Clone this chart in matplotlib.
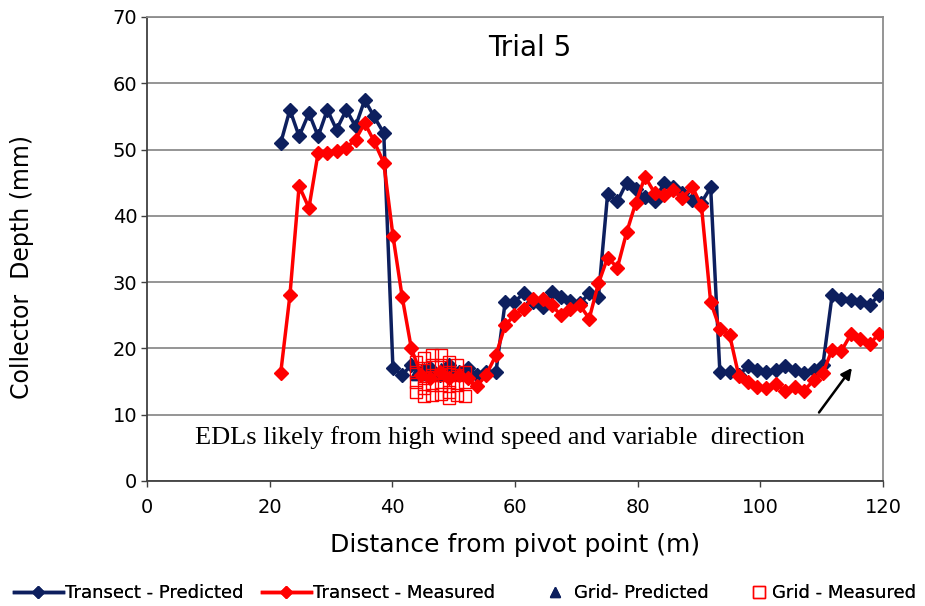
import matplotlib
matplotlib.use("Agg")
import matplotlib.pyplot as plt
from matplotlib.lines import Line2D

# ---- data ----
distance = [21.8, 23.3, 24.8, 26.4, 27.9, 29.4, 30.9, 32.5, 34.0, 35.5,
            37.0, 38.6, 40.1, 41.6, 43.1, 44.7, 46.2, 47.7, 49.2, 50.8,
            52.3, 53.8, 55.3, 56.9, 58.4, 59.9, 61.4, 62.9, 64.5, 66.0,
            67.5, 69.0, 70.6, 72.1, 73.6, 75.1, 76.7, 78.2, 79.7, 81.2,
            82.8, 84.3, 85.8, 87.3, 88.9, 90.4, 91.9, 93.4, 95.0, 96.5,
            98.0, 99.5, 101.0, 102.6, 104.1, 105.6, 107.1, 108.7, 110.2, 111.7,
            113.2, 114.8, 116.3, 117.8, 119.3]

transect_predicted = [51.0, 56.0, 52.0, 55.5, 52.0, 56.0, 53.0, 56.0, 53.5, 57.5,
                      55.0, 52.5, 17.0, 16.0, 17.5, 16.5, 17.0, 16.0, 17.5, 16.5,
                      17.0, 16.0, 16.5, 16.5, 27.0, 27.0, 28.3, 27.0, 26.3, 28.5,
                      27.8, 27.2, 26.8, 28.3, 27.8, 43.3, 42.2, 45.0, 44.0, 42.8,
                      42.2, 45.0, 44.4, 43.4, 42.4, 42.0, 44.3, 16.5, 16.5, 16.0,
                      17.3, 16.7, 16.5, 16.7, 17.3, 16.7, 16.3, 16.7, 17.5, 28.0,
                      27.5, 27.3, 27.0, 26.5, 28.0]

transect_measured = [16.3, 28.0, 44.5, 41.2, 49.5, 49.5, 49.8, 50.3, 51.5, 54.0,
                     51.3, 48.0, 37.0, 27.8, 20.0, 16.0, 15.5, 16.5, 15.5, 16.0,
                     15.5, 14.3, 16.0, 19.0, 23.5, 25.0, 26.0, 27.5, 27.5, 26.5,
                     25.0, 26.0, 26.5, 24.5, 29.8, 33.7, 32.2, 37.5, 42.0, 45.9,
                     43.4, 43.2, 43.9, 42.7, 44.4, 41.5, 27.0, 23.0, 22.0, 15.8,
                     15.0, 14.2, 14.0, 14.6, 13.6, 14.2, 13.6, 15.2, 16.3, 19.8,
                     19.6, 22.2, 21.4, 20.6, 22.2]

grid_x = [43.8, 43.8, 43.8, 43.8, 45.2, 45.2, 45.2, 45.2, 45.2,
          46.5, 46.5, 46.5, 46.5, 46.5, 47.9, 47.9, 47.9, 47.9, 47.9,
          49.2, 49.2, 49.2, 49.2, 49.2, 50.6, 50.6, 50.6, 50.6,
          51.9, 51.9, 51.9]
grid_predicted = [16.5, 16.0, 16.5, 16.0, 17.0, 16.5, 16.0, 16.5, 16.0,
                  17.0, 16.5, 16.0, 16.5, 16.0, 17.0, 16.5, 16.0, 16.5, 16.0,
                  17.0, 16.5, 16.0, 16.5, 16.0, 16.5, 16.0, 16.5, 16.0,
                  16.5, 16.0, 16.5]
grid_measured = [18.0, 16.5, 15.0, 13.5, 18.5, 17.0, 15.5, 14.0, 12.8,
                 19.0, 17.5, 16.0, 14.5, 13.0, 19.0, 17.5, 16.0, 14.5, 13.2,
                 18.0, 16.5, 15.0, 13.5, 12.5, 17.5, 16.0, 14.5, 13.0,
                 16.5, 15.0, 12.8]

x_ticks = [0, 20, 40, 60, 80, 100, 120]
y_ticks = [0, 10, 20, 30, 40, 50, 60, 70]

series_names = ["Transect - Predicted", "Transect - Measured",
                "Grid- Predicted", "Grid - Measured"]
title_text = "Trial 5"
note_text = "EDLs likely from high wind speed and variable  direction"

# ---- style ----
NAVY = "#0d1f5e"
RED = "#ff0000"
GRIDC = "#8c8c8c"
plt.rcParams['font.family'] = ['DejaVu Sans']

fig = plt.figure(figsize=(9.25, 6.06), dpi=100)
ax = fig.add_axes([147/925, 1-481/606, (883-147)/925, (481-17)/606])

ax.plot(grid_x, grid_predicted, linestyle='none', marker='^', color=NAVY,
        markersize=7, zorder=3)
ax.plot(distance, transect_predicted, color=NAVY, lw=2.5, marker='D',
        markersize=7, zorder=4)
ax.plot(distance, transect_measured, color=RED, lw=2.5, marker='D',
        markersize=7, zorder=5)
ax.plot(grid_x, grid_measured, linestyle='none', marker='s', markersize=8,
        markerfacecolor='none', markeredgecolor=RED, markeredgewidth=1.0, zorder=6)

ax.set_xlim(0, 120)
ax.set_ylim(0, 70)
ax.set_xticks(x_ticks)
ax.set_yticks(y_ticks)
ax.tick_params(labelsize=14, length=4, width=1, color='#404040', pad=3)
ax.tick_params(axis='x', pad=8)
ax.yaxis.grid(True, color=GRIDC, lw=1.3)
ax.set_axisbelow(True)
for s in ['top', 'right']:
    ax.spines[s].set_color(GRIDC)
    ax.spines[s].set_linewidth(1.3)
for s in ['left', 'bottom']:
    ax.spines[s].set_color('#404040')
    ax.spines[s].set_linewidth(1.3)

ax.set_xlabel("Distance from pivot point (m)", fontsize=18)
ax.xaxis.set_label_coords(0.5, (481-533)/464)
ax.set_ylabel("Collector  Depth (mm)", fontsize=17)
ax.yaxis.set_label_coords((34-147)/736, (481-267)/464)

ax.text(62.4, 65.3, title_text, fontsize=20, ha='center', va='center')
ax.text(7.8, 6.5, note_text, fontsize=19, ha='left', va='center',
        family=['Liberation Serif', 'DejaVu Serif'])
ax.annotate("", xy=(115.2, 17.4), xytext=(109.3, 10.0),
            arrowprops=dict(arrowstyle='-|>', color='black', lw=1.8,
                            mutation_scale=16))

handles = [
    Line2D([], [], color=NAVY, lw=2.5, marker='D', markersize=6),
    Line2D([], [], color=RED, lw=2.5, marker='D', markersize=6),
    Line2D([], [], color=NAVY, linestyle='none', marker='^', markersize=7),
    Line2D([], [], color=RED, linestyle='none', marker='s', markersize=8,
           markerfacecolor='none', markeredgewidth=1.0),
]
# per-entry legend placement (left px of handle, handle length in font units)
leg_fs = 13
entry_layout = [(14, 2.7), (262, 2.7), (538, 1.85), (748, 1.2)]
ly = 1 - 593/606
for h, name, (x0, hl) in zip(handles, series_names, entry_layout):
    lg = fig.legend([h], [name], loc='center left', bbox_to_anchor=(x0/925, ly),
                    frameon=False, fontsize=leg_fs, handlelength=hl,
                    handletextpad=0.12, borderpad=0, borderaxespad=0)
    fig.add_artist(lg)

fig.savefig("out.png", dpi=100)
